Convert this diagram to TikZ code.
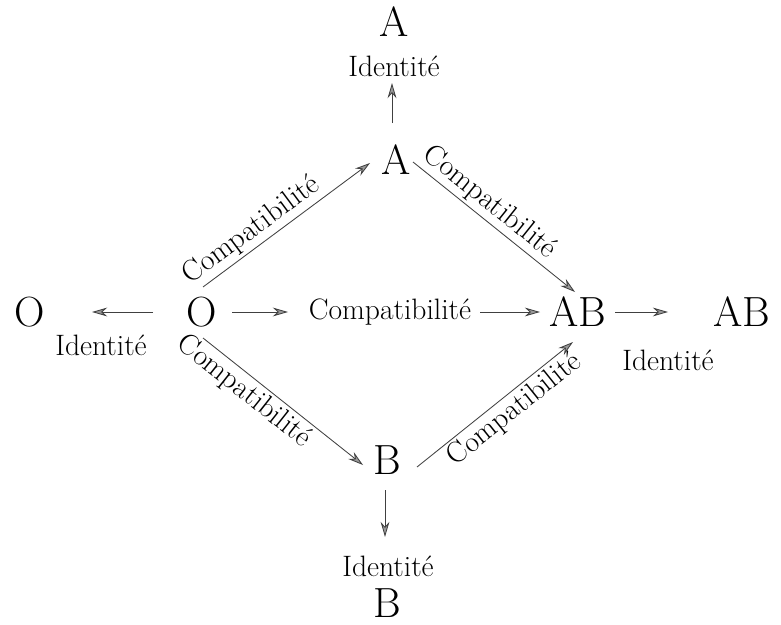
\documentclass[tikz,border=0pt]{standalone}
\usetikzlibrary{arrows.meta,calc}
\begin{document}
\begin{tikzpicture}[x=0.025cm,y=-0.025cm,
  letter/.style={inner sep=0pt,font=\fontsize{30}{32}\selectfont},
  lab/.style={inner sep=0pt,font=\fontsize{21}{23}\selectfont},
  slab/.style={inner sep=2pt,font=\fontsize{21}{23}\selectfont,sloped},
  arrow/.style={-{Stealth[length=3.8mm,width=2.2mm,fill=black!40]},line width=0.6pt,draw=black!75}]
\useasboundingbox[fill=white] (0,0) rectangle (781,624);
\node[letter] (Atop) at (394,22) {A};
\node[lab] (idA) at (394,66) {Identité};
\node[letter] (Amid) at (396,160) {A};
\node[letter] (Oleft) at (30,312) {O};
\node[lab] (idO) at (101,345) {Identité};
\node[letter] (Omid) at (202,312) {O};
\node[lab] (compH) at (390,312) {Compatibilité};
\node[letter] (ABmid) at (578,312) {AB};
\node[letter] (ABright) at (742,312) {AB};
\node[lab] (idAB) at (668,360) {Identité};
\node[letter] (Bmid) at (387,460) {B};
\node[lab] (idB) at (388,566) {Identité};
\node[letter] (Bbot) at (387,603) {B};
\draw[arrow] ($(Amid)+(-4,-37)$) -- ($(idA)+(-2,17)$);
\draw[arrow] ($(Omid)+(-49,0)$) -- ($(Oleft)+(62,0)$);
\draw[arrow] ($(Omid)+(30,0)$) -- ($(compH)+(-102,0)$);
\draw[arrow] ($(compH)+(90,0)$) -- ($(ABmid)+(-38,0)$);
\draw[arrow] ($(ABmid)+(37,0)$) -- ($(ABright)+(-74,0)$);
\draw[arrow] ($(Bmid)+(-2,30)$) -- ($(idB)+(-3,-29)$);
\draw[arrow] ($(Omid)+(1,-25)$) -- node[slab,pos=0.35,above] {Compatibilité} ($(Amid)+(-26,3)$);
\draw[arrow] ($(Amid)+(17,2)$) -- node[slab,pos=0.41,above] {Compatibilité} ($(ABmid)+(-3,-20)$);
\draw[arrow] ($(Omid)+(1,26)$) -- node[slab,pos=0.32,below] {Compatibilité} ($(Bmid)+(-24,5)$);
\draw[arrow] ($(Bmid)+(30,7)$) -- node[slab,pos=0.56,below] {Compatibilité} ($(ABmid)+(-5,30)$);
\end{tikzpicture}
\end{document}
